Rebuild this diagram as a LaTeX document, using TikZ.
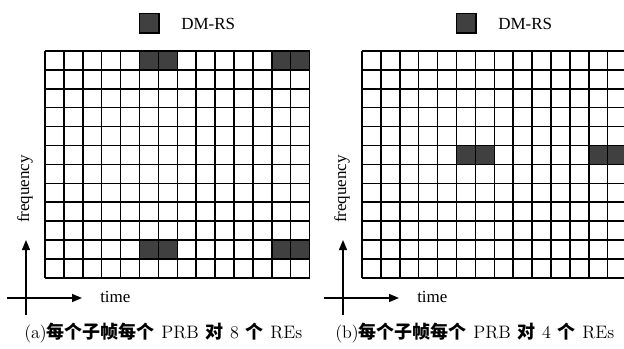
\documentclass[tikz,border=0pt]{standalone}
\usepackage{fontspec}
\usetikzlibrary{arrows.meta}
\newfontfamily\timesfont{Liberation Serif}
\newfontfamily\cjk{Noto Sans CJK SC}
\definecolor{rsgray}{RGB}{64,64,64}
\newcommand{\zh}[1]{{\cjk\bfseries #1}}
\newcommand{\gap}{\hspace{0.37em}}

\begin{document}
\begin{tikzpicture}[x=0.75pt, y=-0.75pt,
   gridline/.style={line width=1.1pt},
   rscell/.style={fill=rsgray},
   axisline/.style={line width=1pt, -{Triangle[length=7.5pt, width=6pt]}},
   word/.style={font=\timesfont\fontsize{12.75}{15}\selectfont, inner sep=0pt},
   caption/.style={font=\fontsize{13.5}{16}\selectfont, inner sep=0pt, anchor=west}]

\useasboundingbox (0,0) rectangle (624,349);

\foreach \sx/\rows/\tag/\nre/\cx in {0/{0,10}/a/8/24, 317/{5}/b/4/335}{
  \begin{scope}[shift={(\sx,0)}]
    % legend
    \draw[rscell, line width=0.8pt] (139.5,13.5) rectangle (159,33);
    \node[word, anchor=west] (key-\tag) at (181,23.5) {DM-RS};
    % resource grid, 14 symbols x 12 subcarriers
    \begin{scope}[shift={(45,51)}]
      \foreach \r in \rows
        \foreach \c in {5,6,12,13}
          \fill[rscell] (\c*18.9,\r*18.9) rectangle ++(18.9,18.9);
      \foreach \c in {0,...,14}
        \draw[gridline] (\c*18.9,0) -- (\c*18.9,226.8);
      \foreach \r in {0,...,12}
        \draw[gridline] (0,\r*18.9) -- (264.6,\r*18.9);
    \end{scope}
    % axes
    \draw[axisline] (26,315) -- (26,240);
    \draw[axisline] (7,298) -- (82,298);
    \node[word, anchor=base west] (time-\tag) at (100,302.5) {time};
    \node[word, rotate=90] (freq-\tag) at (25,189) {frequency};
  \end{scope}
  \node[caption] (cap-\tag) at (\cx,333)
    {(\tag)\zh{每个子帧每个}\gap PRB\gap\zh{对}\gap\nre\gap\zh{个}\gap REs};
}

\end{tikzpicture}
\end{document}
